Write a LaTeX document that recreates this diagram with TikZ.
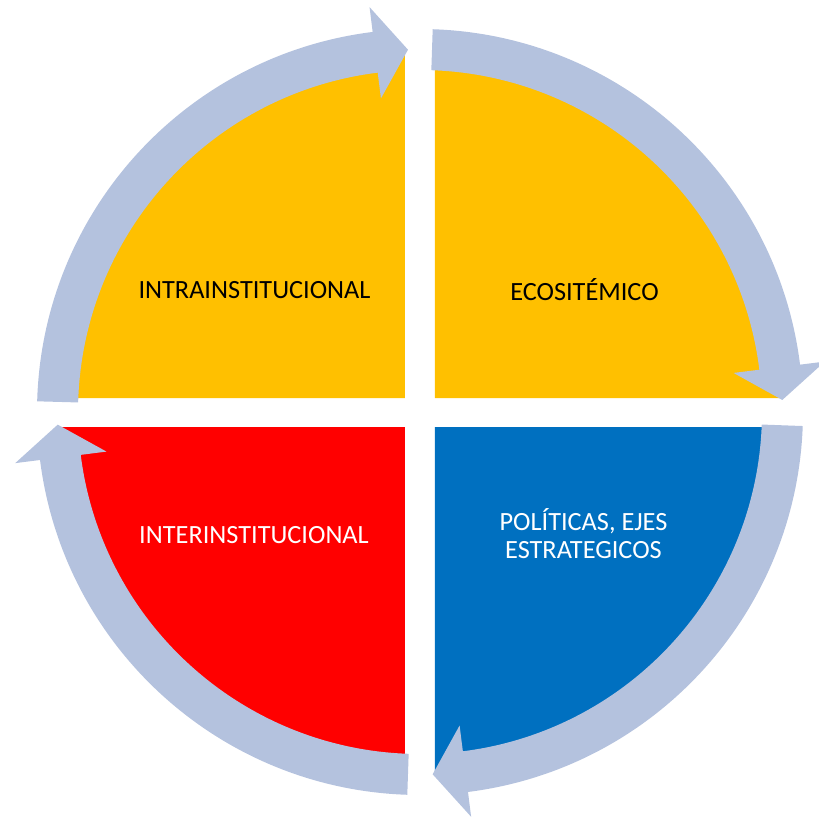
\documentclass[tikz,border=0pt]{standalone}
\usepackage{fontspec}
\setmainfont{Carlito}
\definecolor{qyellow}{HTML}{FFC000}
\definecolor{qred}{HTML}{FF0000}
\definecolor{qblue}{HTML}{0070C0}
\definecolor{bandgray}{HTML}{B4C2DE}
\newcommand{\qq}[1]{#1}
\tikzset{
    qy/.style={fill=qyellow, draw=none},
    qr/.style={fill=qred, draw=none},
    qb/.style={fill=qblue, draw=none},
    band/.style={fill=bandgray, draw=none},
    lbl/.style={align=center, inner sep=0pt, font=\fontsize{26.3}{28}\selectfont}
}

\begin{document}
\begin{tikzpicture}[x=1pt, y=1pt]
\useasboundingbox (-420,-408) rectangle (399,412);

% Quadrants (corner offset 15, radius 345)
\fill[qy] (-15,14) -- (-360,14) arc[start angle=180, end angle=90, radius=345pt] -- cycle;
\fill[qy] (15,14) -- (15,359) arc[start angle=90, end angle=0, radius=345pt] -- cycle;
\fill[qb] (15,-15) -- (360,-15) arc[start angle=0, end angle=-90, radius=345pt] -- cycle;
\fill[qr] (-15,-15) -- (-15,-360) arc[start angle=270, end angle=180, radius=345pt] -- cycle;

% Arrow 1 (left -> top)
\fill[band] (178.4:383pt) arc[start angle=178.4, end angle=97.1, radius=383pt]
    -- (97.1:408pt) -- (91.9:362.5pt) -- (97.1:316pt) -- (97.1:342pt)
    arc[start angle=97.1, end angle=178.4, radius=342pt] -- cycle;

% Arrow 2 (top -> right)
\fill[band] (88.1:383pt) arc[start angle=88.1, end angle=7.1, radius=383pt]
    -- (7.1:408pt) -- (1.9:362.5pt) -- (7.1:316pt) -- (7.1:342pt)
    arc[start angle=7.1, end angle=88.1, radius=342pt] -- cycle;

% Arrow 3 (right -> bottom)
\fill[band] (-2.1:383pt) arc[start angle=-2.1, end angle=-82.8, radius=383pt]
    -- (-82.8:408pt) -- (-88:362.5pt) -- (-82.8:316pt) -- (-82.8:342pt)
    arc[start angle=-82.8, end angle=-2.1, radius=342pt] -- cycle;

% Arrow 4 (bottom -> left)
\fill[band] (268.1:383pt) arc[start angle=268.1, end angle=187.2, radius=383pt]
    -- (187.2:408pt) -- (182:362.5pt) -- (187.2:316pt) -- (187.2:342pt)
    arc[start angle=187.2, end angle=268.1, radius=342pt] -- cycle;

% Labels
\node[lbl] (intra) at (-165.5,122) {\qq{INTRAINSTITUCIONAL}};
\node[lbl] (eco) at (164.5,122) {\qq{ECOSITÉMICO}};
\node[lbl, text=white] (inter) at (-166,-123) {\qq{INTERINSTITUCIONAL}};
\node[lbl, text=white] (poli) at (163.5,-122) {\qq{POLÍTICAS, EJES\\ESTRATEGICOS}};

\end{tikzpicture}
\end{document}
